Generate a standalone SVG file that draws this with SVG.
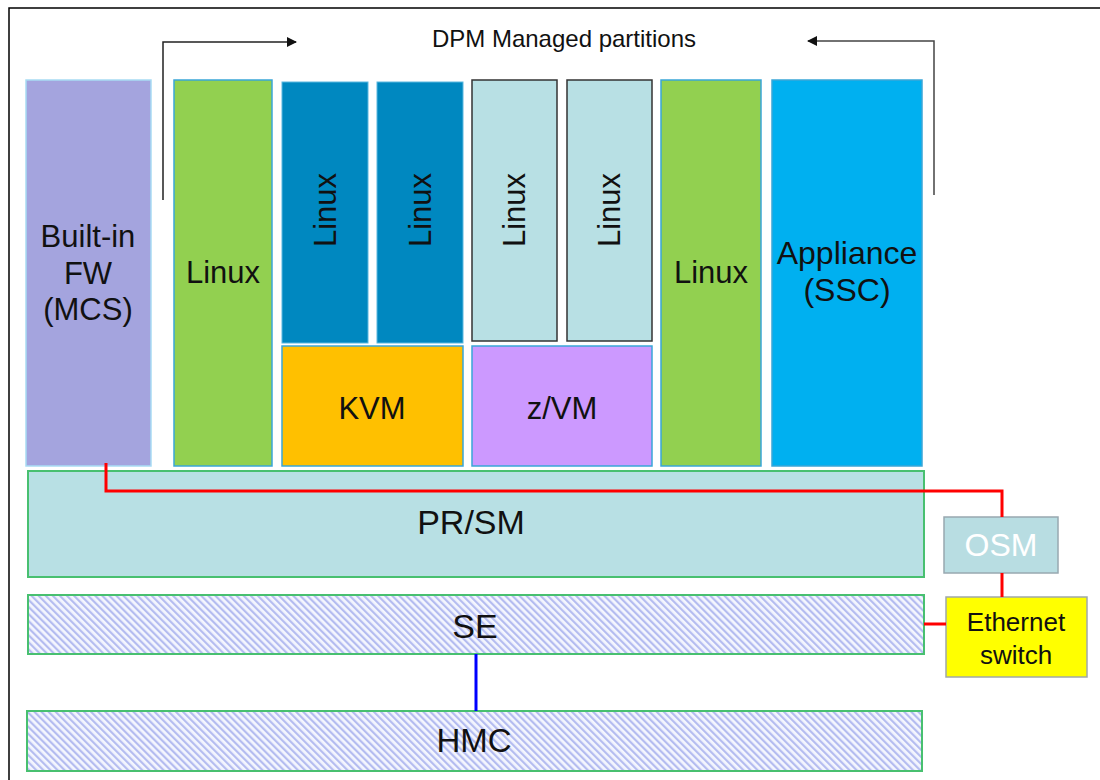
<svg xmlns="http://www.w3.org/2000/svg" width="1100" height="780" viewBox="0 0 1100 780">
<defs>
<pattern id="hatch" width="5" height="5" patternUnits="userSpaceOnUse" patternTransform="rotate(-45)">
<rect width="5" height="5" fill="#f4f6fe"/>
<rect width="2.2" height="5" fill="#b4bcf0"/>
</pattern>
<marker id="ah" markerWidth="10" markerHeight="10" refX="9" refY="5" orient="auto" markerUnits="userSpaceOnUse">
<path d="M0,0 L10,5 L0,10 Z" fill="#111"/>
</marker>
</defs>
<style>
text{font-family:"Liberation Sans",Arial,sans-serif;fill:#111;text-anchor:middle}
.big{font-size:31px}
.blue{stroke:#3aa6d8;stroke-width:1.5}
.dark{stroke:#333;stroke-width:1.5}
.grn{stroke:#48c070;stroke-width:2}
.red{stroke:#ff0000;stroke-width:3;fill:none}
</style>
<rect x="9" y="8" width="1200" height="900" fill="#fff" stroke="#000" stroke-width="1.5"/>
<text x="564" y="47" style="font-size:24px">DPM Managed partitions</text>

<g id="fw"><rect x="26" y="80" width="125" height="386" fill="#a4a4de" stroke="#a8dcf4" stroke-width="1.5"/>
<text class="big" x="88" y="247">Built-in</text><text class="big" x="88" y="284">FW</text><text class="big" x="88" y="320">(MCS)</text></g>
<g id="linux1"><rect x="174" y="80" width="98" height="386" fill="#92d050" class="blue"/><text class="big" x="223" y="283">Linux</text></g>
<g id="linuxk1"><rect x="282" y="82" width="86" height="261" fill="#0088c0" stroke="#5ab8e0" stroke-width="1"/><text class="big" transform="translate(336,210) rotate(-90)">Linux</text></g>
<g id="linuxk2"><rect x="377" y="82" width="86" height="261" fill="#0088c0" stroke="#5ab8e0" stroke-width="1"/><text class="big" transform="translate(431,210) rotate(-90)">Linux</text></g>
<g id="kvm"><rect x="282" y="346" width="181" height="120" fill="#ffc000" class="blue"/><text class="big" x="372" y="419">KVM</text></g>
<g id="linuxz1"><rect x="472" y="80" width="85" height="261" fill="#b8e0e4" class="dark"/><text class="big" transform="translate(525,210) rotate(-90)">Linux</text></g>
<g id="linuxz2"><rect x="567" y="80" width="85" height="261" fill="#b8e0e4" class="dark"/><text class="big" transform="translate(620,210) rotate(-90)">Linux</text></g>
<g id="zvm"><rect x="472" y="346" width="180" height="120" fill="#cc99ff" class="blue"/><text class="big" x="562" y="419">z/VM</text></g>
<g id="linux2"><rect x="661" y="80" width="100" height="386" fill="#92d050" class="blue"/><text class="big" x="711" y="283">Linux</text></g>
<g id="appliance"><rect x="772" y="80" width="150" height="386" fill="#00b0f0" class="blue"/><text x="847" y="264" style="font-size:32px">Appliance</text><text x="847" y="301" style="font-size:32px">(SSC)</text></g>
<g id="prsm"><rect x="28" y="471" width="896" height="106" fill="#b8e0e4" class="grn"/><text x="471" y="534" style="font-size:34px">PR/SM</text></g>
<g id="se"><rect x="28" y="595" width="896" height="59" fill="url(#hatch)" class="grn"/><text x="475" y="638" style="font-size:34px">SE</text></g>
<g id="hmc"><rect x="27" y="711" width="895" height="60" fill="url(#hatch)" class="grn"/><text x="474" y="752" style="font-size:33px">HMC</text></g>
<g id="osm"><rect x="944" y="517" width="114" height="56" fill="#b8dde2" stroke="#98a8b0" stroke-width="1.5"/><text x="1001" y="556" style="font-size:32px;fill:#fff">OSM</text></g>
<g id="eth"><rect x="946" y="597" width="141" height="80" fill="#ffff00" stroke="#a0a8a8" stroke-width="1.5"/><text x="1016" y="631" style="font-size:26px">Ethernet</text><text x="1016" y="664" style="font-size:26px">switch</text></g>

<g id="connectors">
<polyline class="red" points="106,463 106,491 1002,491 1002,517"/>
<line class="red" x1="1002" y1="573" x2="1002" y2="597"/>
<line class="red" x1="924" y1="624" x2="946" y2="624"/>
<line x1="476" y1="654" x2="476" y2="711" stroke="#0000ff" stroke-width="3"/>
<polyline points="163,200 163,42 296,42" fill="none" stroke="#222" stroke-width="1.5" marker-end="url(#ah)"/>
<polyline points="934,195 934,41 808,41" fill="none" stroke="#444" stroke-width="1.5" marker-end="url(#ah)"/>
</g>
</svg>
